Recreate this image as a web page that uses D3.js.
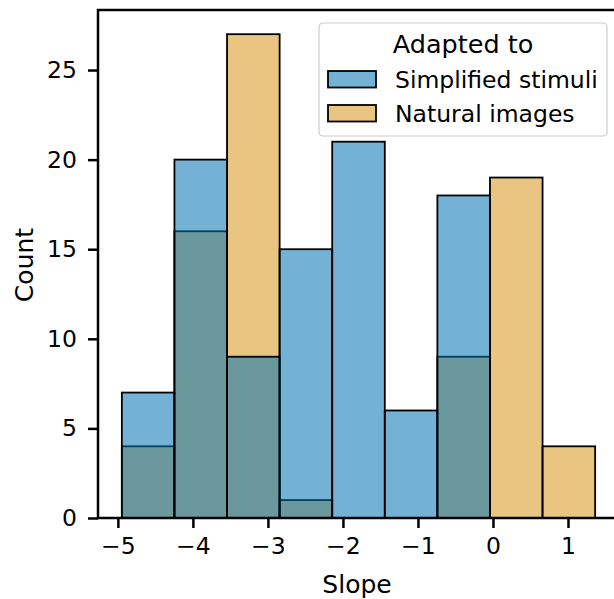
<!DOCTYPE html>
<html>
<head>
<meta charset="utf-8">
<script src="https://cdn.jsdelivr.net/npm/d3@7"></script>
<style>
  body { margin: 0; background: #fff; }
  svg { display: block; font-family: "DejaVu Sans", sans-serif; }
</style>
</head>
<body>
<svg id="chart" width="614" height="599"></svg>
<script>
// histogram bins (slope), shared by both groups
const binEdges = [-4.947, -4.246, -3.545, -2.844, -2.143, -1.442, -0.741, -0.040, 0.661, 1.362];
const simplifiedCounts = [7, 20, 9, 15, 21, 6, 18, 0, 0];
const naturalCounts = [4, 16, 27, 1, 0, 0, 9, 19, 4];
const groups = ['Simplified stimuli', 'Natural images'];
const groupColors = ['#0173b2', '#d8961a'];
const xTicks = [-5, -4, -3, -2, -1, 0, 1];
const yTicks = [0, 5, 10, 15, 20, 25];

const svg = d3.select('#chart');
const margin = { top: 10, left: 98, bottom: 81, right: -5 };
const width = 614 - margin.left - margin.right;
const height = 599 - margin.top - margin.bottom;

const x = d3.scaleLinear().domain([-5.265, 1.68]).range([0, width]);
const y = d3.scaleLinear().domain([0, 28.35]).range([height, 0]);

const g = svg.append('g').attr('transform', `translate(${margin.left},${margin.top})`);

// bars: natural first, simplified on top
const drawBars = (counts, color) => {
    g.append('g').selectAll('rect')
        .data(counts.map((c, i) => ({ x0: binEdges[i], x1: binEdges[i + 1], c })).filter(d => d.c > 0))
        .join('rect')
        .attr('x', d => x(d.x0))
        .attr('y', d => y(d.c))
        .attr('width', d => x(d.x1) - x(d.x0))
        .attr('height', d => y(0) - y(d.c))
        .attr('fill', color)
        .attr('fill-opacity', 0.55)
        .attr('stroke', '#000')
        .attr('stroke-width', 1.8);
};
drawBars(naturalCounts, groupColors[1]);
drawBars(simplifiedCounts, groupColors[0]);

// axes
const xAxis = g.append('g')
    .attr('transform', `translate(0,${height})`)
    .call(d3.axisBottom(x).tickValues(xTicks).tickSize(10).tickPadding(9)
        .tickFormat(d => d < 0 ? '\u2212' + Math.abs(d) : d));
const yAxis = g.append('g')
    .call(d3.axisLeft(y).tickValues(yTicks).tickSize(10).tickPadding(11));
[xAxis, yAxis].forEach(a => {
    a.attr('font-size', null).attr('font-family', null);
    a.select('.domain').remove();
    a.selectAll('.tick line').attr('stroke', '#000').attr('stroke-width', 2.5);
    a.selectAll('.tick text').attr('fill', '#000').style('font-size', '23.5px');
});

// spines (top, left, bottom; right falls outside the window)
g.append('rect')
    .attr('x', 0).attr('y', 0)
    .attr('width', width).attr('height', height)
    .attr('fill', 'none').attr('stroke', '#000').attr('stroke-width', 2.5);

// axis labels
svg.append('text')
    .attr('x', 357).attr('y', 593)
    .attr('text-anchor', 'middle')
    .style('font-size', '25px')
    .text('Slope');
svg.append('text')
    .attr('transform', 'translate(33,265) rotate(-90)')
    .attr('text-anchor', 'middle')
    .style('font-size', '25px')
    .text('Count');

// legend
const legend = svg.append('g').attr('transform', 'translate(319,23)');
legend.append('rect')
    .attr('x', 0).attr('y', 0).attr('width', 288).attr('height', 113)
    .attr('rx', 4)
    .attr('fill', '#fff').attr('fill-opacity', 0.8)
    .attr('stroke', '#ccc').attr('stroke-width', 1.2);
legend.append('text')
    .attr('x', 144).attr('y', 30)
    .attr('text-anchor', 'middle')
    .style('font-size', '25.5px')
    .text('Adapted to');
groups.forEach((name, i) => {
    const row = legend.append('g').attr('transform', `translate(0,${48 + i * 34})`);
    row.append('rect')
        .attr('x', 9).attr('y', 0).attr('width', 48).attr('height', 16.5)
        .attr('fill', groupColors[i]).attr('fill-opacity', 0.55)
        .attr('stroke', '#000').attr('stroke-width', 1.8);
    row.append('text')
        .attr('x', 76).attr('y', 17)
        .style('font-size', '23.5px')
        .text(name);
});
</script>
</body>
</html>
